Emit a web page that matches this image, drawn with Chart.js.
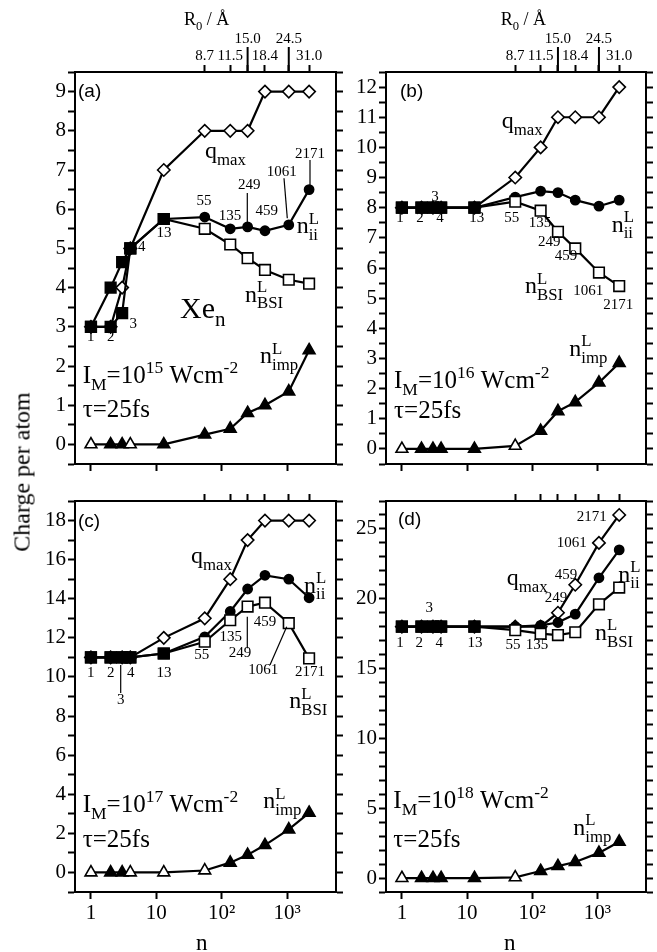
<!DOCTYPE html>
<html>
<head>
<meta charset="utf-8">
<script src="https://cdn.jsdelivr.net/npm/chart.js@4.4.1/dist/chart.umd.min.js"></script>
<style>
  html, body { margin: 0; padding: 0; background: #fff; }
  #fig { position: relative; width: 657px; height: 952px; overflow: hidden; background: #fff; }
  #fig canvas { position: absolute; }
  #ylab {
    position: absolute; left: 22px; top: 472px;
    transform: translate(-50%, -50%) rotate(-90deg);
    font: 24px 'Liberation Serif', serif; white-space: nowrap; color: #000;
  }
</style>
</head>
<body>
<div id="fig">
  <canvas id="panelA" width="350" height="480" style="left:0;top:0"></canvas>
  <canvas id="panelB" width="317" height="480" style="left:340px;top:0"></canvas>
  <canvas id="panelC" width="350" height="472" style="left:0;top:480px"></canvas>
  <canvas id="panelD" width="317" height="472" style="left:340px;top:480px"></canvas>
  <div id="ylab">Charge per atom</div>
</div>
<script>
// cluster sizes Xe_n and the matching radius axis
const clusterSizes = [1, 2, 3, 4, 13, 55, 135, 249, 459, 1061, 2171];
const decadeTicks = [1, 10, 100, 1000];
const decadeLabels = ['1', '10', '10²', '10³'];
const radiusTickSizes = [55, 135, 249, 459, 1061, 2171];
const radiusLabels = ['8.7', '11.5', '15.0', '18.4', '24.5', '31.0'];
const radiusUpperRow = ['15.0', '24.5'];

// I_M = 1e15 W/cm2
const qmax15 = [3, 3, 4, 5, 7, 8, 8, 8, 9, 9, 9];
const nii15  = [3, 4, 4.65, 5, 5.75, 5.8, 5.5, 5.55, 5.45, 5.6, 6.5];
const nbsi15 = [3, 3, 3.35, 5, 5.75, 5.5, 5.1, 4.75, 4.45, 4.2, 4.1];
const nimp15 = [0, 0, 0, 0, 0, 0.25, 0.4, 0.8, 1.0, 1.35, 2.4];

// I_M = 1e16 W/cm2
const qmax16 = [8, 8, 8, 8, 8, 9, 10, 11, 11, 11, 12];
const nii16  = [8, 8, 8, 8, 8, 8.35, 8.55, 8.5, 8.25, 8.05, 8.25];
const nbsi16 = [8, 8, 8, 8, 8, 8.2, 7.9, 7.2, 6.65, 5.85, 5.4];
const nimp16 = [0, 0, 0, 0, 0, 0.1, 0.6, 1.25, 1.55, 2.2, 2.85];

// I_M = 1e17 W/cm2
const qmax17 = [11, 11, 11, 11, 12, 13, 15, 17, 18, 18, 18];
const nii17  = [11, 11, 11, 11, 11.2, 12.05, 13.35, 14.5, 15.2, 15.0, 14.05];
const nbsi17 = [11, 11, 11, 11, 11.2, 11.8, 12.9, 13.6, 13.8, 12.75, 10.95];
const nimp17 = [0, 0, 0, 0, 0, 0.1, 0.5, 0.9, 1.4, 2.2, 3.05];

// I_M = 1e18 W/cm2
const qmax18 = [18, 18, 18, 18, 18, 18, 18, 19, 21, 24, 26];
const nii18  = [18, 18, 18, 18, 18, 18, 18.1, 18.3, 18.9, 21.5, 23.5];
const nbsi18 = [18, 18, 18, 18, 18, 17.75, 17.5, 17.4, 17.6, 19.6, 20.8];
const nimp18 = [0, 0, 0, 0, 0, 0.05, 0.5, 0.85, 1.15, 1.8, 2.6];

const SERIF = "'Liberation Serif', 'Times New Roman', serif";
const SANS = "'Liberation Sans', Arial, sans-serif";
const X_MIN = 0.57, X_MAX = 5600;

// tiny text layout: "n_{ii}^{L}" -> base text with stacked sub/superscripts
function layoutRich(ctx, str, size, family) {
  const items = [];
  let i = 0;
  while (i < str.length) {
    const c = str[i];
    if (c === '_' || c === '^') {
      let t, j = i + 1;
      if (str[j] === '{') { const k = str.indexOf('}', j); t = str.slice(j + 1, k); i = k + 1; }
      else { t = str[j]; i = j + 1; }
      const part = { t, s: size * 0.7, dy: c === '_' ? size * 0.28 : -size * 0.4 };
      const prev = items[items.length - 1];
      if (prev && prev.script && !prev.parts.some(p => Math.sign(p.dy) === Math.sign(part.dy))) prev.parts.push(part);
      else items.push({ script: true, parts: [part] });
    } else {
      let j = i;
      while (j < str.length && str[j] !== '_' && str[j] !== '^') j++;
      items.push({ script: false, parts: [{ t: str.slice(i, j), s: size, dy: 0 }] });
      i = j;
    }
  }
  items.forEach(it => {
    it.w = Math.max(...it.parts.map(p => { ctx.font = `${p.s}px ${family}`; return ctx.measureText(p.t).width; }));
  });
  return items;
}

function drawRich(ctx, str, x, y, size, family, align) {
  const items = layoutRich(ctx, str, size, family);
  const total = items.reduce((s, it) => s + it.w, 0);
  let cx = align === 'center' ? x - total / 2 : x;
  ctx.textAlign = 'left';
  ctx.textBaseline = 'alphabetic';
  items.forEach(it => {
    it.parts.forEach(p => { ctx.font = `${p.s}px ${family}`; ctx.fillText(p.t, cx, y + p.dy); });
    cx += it.w;
  });
}

// labels, leader lines and the long radius ticks, placed from the chart area corner
function notesPlugin(notes, upperTicks) {
  return {
    id: 'notes',
    afterDraw(chart) {
      const { ctx, chartArea: { left, top } } = chart;
      ctx.save();
      ctx.fillStyle = '#000';
      ctx.strokeStyle = '#000';
      if (upperTicks) {
        const sc = chart.scales.x2;
        ctx.lineWidth = 2;
        radiusTickSizes.forEach((n, i) => {
          if (!radiusUpperRow.includes(radiusLabels[i])) return;
          const px = sc.getPixelForValue(n);
          ctx.beginPath(); ctx.moveTo(px, top); ctx.lineTo(px, top - 25); ctx.stroke();
        });
      }
      ctx.lineWidth = 1.2;
      (notes.leaders || []).forEach(([x1, y1, x2, y2]) => {
        ctx.beginPath(); ctx.moveTo(left + x1, top + y1); ctx.lineTo(left + x2, top + y2); ctx.stroke();
      });
      ctx.font = `15px ${SERIF}`;
      ctx.textAlign = 'center';
      ctx.textBaseline = 'middle';
      notes.nums.forEach(([t, x, y]) => ctx.fillText(t, left + x, top + y));
      notes.texts.forEach(([t, x, y, s, fam, align]) =>
        drawRich(ctx, t, left + x, top + y, s, fam === 'sans' ? SANS : SERIF, align));
      ctx.restore();
    }
  };
}

function seriesDatasets(series, openTri) {
  const [q, nii, bsi, imp] = series;
  const pts = arr => clusterSizes.map((n, i) => ({ x: n, y: arr[i] }));
  const small = clusterSizes.map(n => n <= 13);
  const line = {
    borderColor: '#000', borderWidth: 2.2, tension: 0,
    pointBorderColor: '#000', pointBorderWidth: 1.6, xAxisID: 'x', yAxisID: 'y'
  };
  return [
    { ...line, label: 'n_BSI', data: pts(bsi), pointStyle: 'rect', pointRadius: 7.5,
      pointBackgroundColor: small.map(s => s ? '#000' : '#fff') },
    { ...line, label: 'n_ii', data: pts(nii), pointStyle: small.map(s => s ? 'rect' : 'circle'),
      pointRadius: small.map(s => s ? 7.5 : 4.6), pointBackgroundColor: '#000' },
    { ...line, label: 'q_max', data: pts(q), pointStyle: 'rectRot', pointRadius: 6.2,
      pointBackgroundColor: '#fff' },
    { ...line, label: 'n_imp', data: pts(imp), pointStyle: 'triangle', pointRadius: 6.8,
      pointBackgroundColor: clusterSizes.map((n, i) => openTri.includes(i) ? '#fff' : '#000') }
  ];
}

function makePanel(id, cfg) {
  const [padL, padR, padT, padB] = cfg.frame;
  const tickFont = { family: SERIF, size: 21 };
  const axisLine = { display: true, color: '#000', width: 2 };
  const tickGrid = { drawOnChartArea: false, drawTicks: true, tickLength: 7, tickWidth: 2, tickColor: '#000' };
  const yAxis = (position, labelled, width) => ({
    type: 'linear', position, min: cfg.yMin, max: cfg.yMax,
    ticks: {
      stepSize: cfg.step, maxTicksLimit: 200, autoSkip: false, padding: 2, color: '#000', font: tickFont,
      callback: v => (labelled && cfg.showY(v)) ? String(v) : ''
    },
    grid: tickGrid, border: axisLine,
    afterFit: s => { s.width = width; }
  });
  return new Chart(document.getElementById(id), {
    type: 'line',
    data: { datasets: seriesDatasets(cfg.series, cfg.openTri) },
    options: {
      responsive: false, animation: false, events: [], devicePixelRatio: 1,
      layout: { padding: 0 },
      plugins: { legend: { display: false }, tooltip: { enabled: false } },
      scales: {
        x: {
          type: 'logarithmic', position: 'bottom', min: X_MIN, max: X_MAX,
          afterBuildTicks: s => { s.ticks = decadeTicks.map(v => ({ value: v })); },
          ticks: {
            autoSkip: false, maxRotation: 0, padding: 2, color: '#000', font: tickFont,
            callback: (v, i) => cfg.nLabels ? decadeLabels[i] : ''
          },
          grid: tickGrid, border: axisLine,
          afterFit: s => { s.height = padB; }
        },
        x2: {
          type: 'logarithmic', position: 'top', min: X_MIN, max: X_MAX,
          afterBuildTicks: s => { s.ticks = radiusTickSizes.map(v => ({ value: v })); },
          ticks: {
            autoSkip: false, maxRotation: 0, padding: 1, color: '#000',
            font: { family: SERIF, size: 15, lineHeight: 1.1 },
            callback: (v, i) => {
              if (!cfg.rLabels) return '';
              const lab = radiusLabels[i];
              return radiusUpperRow.includes(lab) ? [lab, ''] : ['', lab];
            }
          },
          grid: tickGrid, border: axisLine,
          afterFit: s => { s.height = padT; }
        },
        y: yAxis('left', true, padL),
        y2: yAxis('right', false, padR)
      }
    },
    plugins: [notesPlugin(cfg.notes, cfg.rLabels)]
  });
}

makePanel('panelA', {
  series: [qmax15, nii15, nbsi15, nimp15], openTri: [0, 3],
  yMin: -0.5, yMax: 9.5, step: 0.5, showY: v => Number.isInteger(v),
  frame: [75, 14, 72, 16], rLabels: true, nLabels: false,
  notes: {
    nums: [['1', 15.7, 265.3], ['2', 35.7, 265.3], ['3', 58.3, 252], ['4', 66.7, 175], ['13', 89, 161.3],
           ['55', 129, 129], ['135', 155, 144], ['249', 174.3, 113], ['459', 191.7, 138.7],
           ['1061', 206.7, 99.7], ['2171', 235, 82]],
    leaders: [[172.3, 121, 172.3, 150.7], [209, 106.3, 212.3, 146.3], [235, 88, 235, 113]],
    texts: [
      ['(a)', 3, 25, 19, 'sans'],
      ['R_{0} / Å', 131.7, -47, 18, 'serif', 'center'],
      ['q_{max}', 130, 86.3, 24],
      ['n_{ii}^{L}', 221.7, 161.3, 24],
      ['n_{BSI}^{L}', 170, 229.7, 24],
      ['Xe_{n}', 105, 246, 30],
      ['n_{imp}^{L}', 185, 291.3, 24],
      ['I_{M}=10^{15} Wcm^{-2}', 7.7, 311.3, 25],
      ['τ=25fs', 7.7, 344.7, 25]
    ]
  }
});

makePanel('panelB', {
  series: [qmax16, nii16, nbsi16, nimp16], openTri: [0, 5],
  yMin: -0.5, yMax: 12.5, step: 0.5, showY: v => Number.isInteger(v),
  frame: [46, 11, 72, 16], rLabels: true, nLabels: false,
  notes: {
    nums: [['3', 49, 124.7], ['1', 14, 146.3], ['2', 34, 146.3], ['4', 54, 146.3], ['13', 90.7, 146.3],
           ['55', 125.7, 146.3], ['135', 154, 150.7], ['249', 163.3, 169.7], ['459', 180, 184],
           ['1061', 202.3, 219], ['2171', 232.3, 233]],
    leaders: [],
    texts: [
      ['(b)', 14, 25, 19, 'sans'],
      ['R_{0} / Å', 137.3, -47, 18, 'serif', 'center'],
      ['q_{max}', 115.7, 56.3, 24],
      ['n_{ii}^{L}', 225.7, 159.7, 24],
      ['n_{BSI}^{L}', 139, 221.3, 24],
      ['n_{imp}^{L}', 183.3, 284, 24],
      ['I_{M}=10^{16} Wcm^{-2}', 8, 316.3, 25],
      ['τ=25fs', 8, 346.3, 25]
    ]
  }
});

makePanel('panelC', {
  series: [qmax17, nii17, nbsi17, nimp17], openTri: [0, 3, 4, 5],
  yMin: -1, yMax: 19, step: 1, showY: v => v % 2 === 0,
  frame: [75, 14, 21, 60], rLabels: false, nLabels: true,
  notes: {
    nums: [['1', 15.7, 172.3], ['2', 35.7, 172.3], ['4', 55.7, 172.3], ['3', 45.7, 199], ['13', 89, 172.3],
           ['55', 126.7, 154], ['135', 155.7, 135.7], ['249', 165, 152.3], ['459', 190, 120.7],
           ['1061', 188.3, 169], ['2171', 235, 170.7]],
    leaders: [[45.7, 164, 45.7, 192], [172.3, 147.3, 172.3, 115.7], [195, 164, 211.7, 125.7]],
    texts: [
      ['(c)', 3, 26, 19, 'sans'],
      ['q_{max}', 116, 62.3, 24],
      ['n_{ii}^{L}', 229, 91.7, 24],
      ['n_{BSI}^{L}', 214.3, 207.3, 24],
      ['n_{imp}^{L}', 188.3, 307.3, 24],
      ['I_{M}=10^{17} Wcm^{-2}', 7.7, 310.7, 25],
      ['τ=25fs', 7.7, 345.7, 25],
      ['n', 126.7, 449, 23, 'serif', 'center']
    ]
  }
});

makePanel('panelD', {
  series: [qmax18, nii18, nbsi18, nimp18], openTri: [0, 5],
  yMin: -1, yMax: 27, step: 1, showY: v => v % 5 === 0,
  frame: [46, 11, 21, 60], rLabels: false, nLabels: true,
  notes: {
    nums: [['1', 14, 142.3], ['2', 33.3, 142.3], ['4', 53.3, 142.3], ['3', 43.3, 107.3], ['13', 89, 142.3],
           ['55', 127, 144], ['135', 151, 144], ['249', 170, 97.3], ['459', 180, 74],
           ['1061', 185.7, 42.3], ['2171', 205.7, 15.7]],
    leaders: [],
    texts: [
      ['(d)', 12, 24, 19, 'sans'],
      ['q_{max}', 120.7, 84, 24],
      ['n_{ii}^{L}', 232.3, 80.7, 24],
      ['n_{BSI}^{L}', 209, 139, 24],
      ['n_{imp}^{L}', 187.3, 334, 24],
      ['I_{M}=10^{18} Wcm^{-2}', 7.3, 307.3, 25],
      ['τ=25fs', 7.3, 345.7, 25],
      ['n', 123.7, 449, 23, 'serif', 'center']
    ]
  }
});
</script>
</body>
</html>
